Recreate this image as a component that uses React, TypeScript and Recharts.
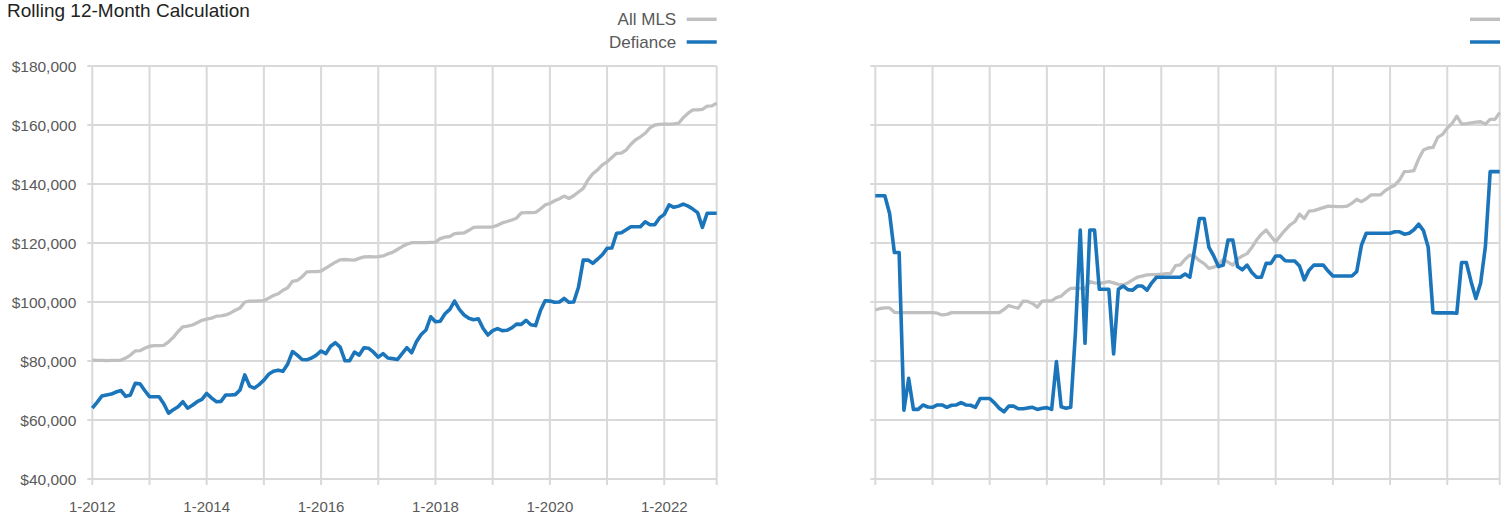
import React from 'react';
import { LineChart, Line, XAxis, YAxis, CartesianGrid } from 'recharts';

const years = [2012, 2013, 2014, 2015, 2016, 2017, 2018, 2019, 2020, 2021, 2022];
const months: string[] = years.flatMap((y) => Array.from({ length: 12 }, (_, m) => `${m + 1}-${y}`));

const xTicks = ['1-2012', '1-2013', '1-2014', '1-2015', '1-2016', '1-2017', '1-2018', '1-2019', '1-2020', '1-2021', '1-2022', '12-2022'];
const xLabels = ['1-2012', '1-2014', '1-2016', '1-2018', '1-2020', '1-2022'];
const yTicks = [40000, 60000, 80000, 100000, 120000, 140000, 160000, 180000];
const seriesNames = ['All MLS', 'Defiance'];

// values in $ thousands
const leftMls = [
  80.3, 80.2, 80.2, 80.1, 80.2, 80.2, 80.3, 81, 82, 83.4, 83.5, 84.3,
  85, 85.2, 85.2, 85.3, 86.5, 88, 90, 91.6, 91.8, 92.2, 93, 93.8,
  94.2, 94.5, 95.2, 95.3, 95.6, 96.3, 97.2, 98, 100, 100.3, 100.3, 100.4,
  100.5, 101.3, 102.2, 102.8, 104, 104.8, 107, 107.3, 108.5, 110.2, 110.3, 110.3,
  110.5, 111.5, 112.5, 113.5, 114.3, 114.4, 114.3, 114.2, 114.8, 115.3, 115.4, 115.3,
  115.4, 115.6, 116.3, 116.8, 117.8, 118.8, 119.6, 120.1, 120.1, 120.1, 120.1, 120.2,
  120.3, 121.5, 122, 122.2, 123.2, 123.3, 123.4, 124.3, 125.3, 125.4, 125.4, 125.4,
  125.5, 126, 126.8, 127.3, 127.8, 128.4, 130.2, 130.3, 130.3, 130.4, 131.5, 132.9,
  133.4, 134.3, 135, 135.9, 135.1, 136, 137.3, 138.5, 141.4, 143.5, 144.8, 146.5,
  147.5, 149, 150.4, 150.5, 151.5, 153.5, 155, 156, 157.2, 159, 160, 160.2,
  160.3, 160.3, 160.4, 160.6, 162.5, 164, 165.1, 165.1, 165.3, 166.4, 166.5, 167.4,
];

const leftDef = [
  64.0, 66, 68.1, 68.5, 68.8, 69.5, 70, 68, 68.5, 72.4, 72.3, 70,
  67.9, 67.9, 67.9, 65.5, 62.3, 63.5, 64.5, 66.2, 64, 65, 66.2, 67,
  69, 67.5, 66.2, 66.3, 68.5, 68.5, 68.6, 70.2, 75.3, 71.5, 70.8, 72,
  73.5, 75.5, 76.5, 76.9, 76.5, 79, 83.2, 82, 80.5, 80.4, 81, 82,
  83.4, 82.5, 85, 86.2, 84.7, 80.1, 80.1, 83, 82, 84.5, 84.3, 83,
  81.3, 82.5, 81, 80.8, 80.5, 82.5, 84.5, 82.8, 86.5, 89, 90.5, 95,
  93.3, 93.5, 96, 97.5, 100.3, 97.5, 95.6, 94.5, 94, 94.3, 91, 88.8,
  90.3, 91, 90.3, 90.4, 91.2, 92.5, 92.4, 93.8, 92.3, 92, 97, 100.4,
  100.3, 99.9, 100, 101.2, 99.9, 100, 105, 114.2, 114.2, 113.1, 114.5, 116,
  118.2, 118.3, 123.3, 123.5, 124.5, 125.5, 125.5, 125.5, 127.2, 126.2, 126.2, 128.5,
  129.7, 132.9, 132.1, 132.5, 133.2, 132.5, 131.5, 130.3, 125.3, 130.1, 130.1, 130.1,
];

const rightMls = [
  97.3, 97.8, 98, 98, 96.5, 96.4, 96.4, 96.4, 96.4, 96.4, 96.4, 96.4,
  96.4, 96.2, 95.6, 95.8, 96.4, 96.4, 96.4, 96.4, 96.4, 96.4, 96.4, 96.4,
  96.4, 96.4, 96.4, 97.5, 98.8, 98.3, 97.9, 100.3, 100.2, 99.5, 98.2, 100.3,
  100.4, 100.4, 101.5, 102, 103.5, 104.6, 104.7, 104.6, 104.4, 106.9, 106.5, 106.3,
  106.6, 106.9, 106.5, 106, 105.8, 106.5, 107.5, 108.4, 108.8, 109.2, 109.3, 109.3,
  109.4, 109.6, 109.7, 112.3, 112.6, 114.5, 115.9, 115.5, 114, 113, 111.4, 111.8,
  112.5, 114.5, 113.5, 112.5, 114.5, 115.6, 116.4, 118.5, 121, 123, 124.4, 122.3,
  120.4, 122.5, 124.4, 126.1, 127.2, 129.8, 128.3, 130.8, 131, 131.5, 132, 132.5,
  132.4, 132.3, 132.3, 132.5, 133.5, 134.8, 134, 135, 136.3, 136.3, 136.3, 137.8,
  138.8, 139.6, 141.4, 144.2, 144.3, 144.5, 148.5, 151.5, 152.2, 152.4, 155.8, 156.8,
  159, 160.5, 163, 160.4, 160.5, 160.7, 161, 161.1, 160.3, 161.9, 161.9, 164.2,
];

const rightDef = [
  136, 136, 136, 130, 116.8, 116.8, 63.3, 74.1, 63.6, 63.6, 65.1, 64.4,
  64.3, 65.1, 65.1, 64.3, 65, 65.1, 65.9, 65.1, 65, 64.3, 67.3, 67.3,
  67.3, 65.8, 64, 62.8, 64.7, 64.7, 63.8, 63.8, 64.1, 64.3, 63.6, 64,
  64.2, 63.6, 79.8, 64.5, 64, 64.3, 90, 124.4, 86, 124.4, 124.4, 104.3,
  104.3, 104.3, 82.4, 104.3, 105.4, 104.2, 104, 105.4, 105.4, 104, 106.5, 108.4,
  108.4, 108.4, 108.4, 108.4, 108.4, 109.5, 108.4, 118, 128.3, 128.3, 118.5, 115.6,
  112, 112.5, 121, 121, 112, 110.9, 112.5, 110, 108.4, 108.4, 113.1, 113.1,
  115.6, 115.6, 114, 113.9, 113.9, 112.2, 107.5, 110.8, 112.5, 112.5, 112.5, 110.5,
  108.8, 108.8, 108.8, 108.8, 108.8, 110.3, 119.3, 123.3, 123.3, 123.3, 123.3, 123.3,
  123.3, 123.8, 123.8, 123, 123.3, 124.5, 126.4, 124.2, 118.6, 96.4, 96.3, 96.3,
  96.3, 96.3, 96.2, 113.4, 113.4, 106.9, 101.2, 106.4, 118.8, 144.2, 144.2, 144.2,
];

const GRID = '#d9d9d9';
const GRAY = '#c0c0c0';
const BLUE = '#1b75bb';
const TEXT = '#595959';
const FONT = "'Liberation Sans', Arial, sans-serif";

function buildRows(mls: number[], def: number[]) {
  return months.map((m, i) => ({ month: m, mls: mls[i] * 1000, def: def[i] * 1000 }));
}

function Panel({ left, mls, def, labels }: { left: number; mls: number[]; def: number[]; labels: boolean }) {
  const data = buildRows(mls, def);
  return (
    <div style={{ position: 'absolute', left, top: 0, width: 730, height: 514 }}>
      <LineChart width={730} height={514} data={data} margin={{ top: 66, right: 13.3, bottom: 0, left: 0 }}>
        <CartesianGrid stroke={GRID} strokeWidth={2} />
        <XAxis
          dataKey="month"
          ticks={xTicks}
          interval={0}
          axisLine={false}
          tickLine={{ stroke: GRID, strokeWidth: 2 }}
          tickSize={6}
          tickMargin={16}
          height={35}
          tick={{ fill: TEXT, fontSize: 15, fontFamily: FONT }}
          tickFormatter={(v: string) => (labels && xLabels.includes(v) ? v : '')}
        />
        <YAxis
          domain={[40000, 180000]}
          ticks={yTicks}
          width={92.3}
          axisLine={false}
          tickLine={{ stroke: GRID, strokeWidth: 2 }}
          tickSize={5}
          tickMargin={11}
          tick={{ fill: TEXT, fontSize: 15.5, fontFamily: FONT }}
          tickFormatter={(v: number) => (labels ? '$' + v.toLocaleString('en-US') : '')}
        />
        <Line type="linear" dataKey="mls" name={seriesNames[0]} stroke={GRAY} strokeWidth={3.3} dot={false} isAnimationActive={false} strokeLinejoin="round" />
        <Line type="linear" dataKey="def" name={seriesNames[1]} stroke={BLUE} strokeWidth={3.6} dot={false} isAnimationActive={false} strokeLinejoin="round" />
      </LineChart>
    </div>
  );
}

function LegendBox({ right, showText }: { right: number; showText: boolean }) {
  const colors = [GRAY, BLUE];
  return (
    <svg style={{ position: 'absolute', left: 0, top: 0 }} width={1510} height={60}>
      {seriesNames.map((n, i) => (
        <g key={n}>
          {showText && (
            <text x={right - 40.5} y={25 + i * 23} textAnchor="end" fill={TEXT} fontSize={17} fontFamily={FONT}>
              {n}
            </text>
          )}
          <line x1={right - 30} x2={right} y1={19.3 + i * 22.7} y2={19.3 + i * 22.7} stroke={colors[i]} strokeWidth={3.5} />
        </g>
      ))}
    </svg>
  );
}

export default function App() {
  return (
    <div style={{ position: 'absolute', left: 0, top: 0, width: 1510, height: 514, background: '#fff' }}>
      <div style={{ position: 'absolute', left: 7, top: 0, fontFamily: FONT, fontSize: 19, color: '#222', lineHeight: '21px' }}>
        Rolling 12-Month Calculation
      </div>
      <Panel left={0} mls={leftMls} def={leftDef} labels={true} />
      <Panel left={783} mls={rightMls} def={rightDef} labels={false} />
      <LegendBox right={716.7} showText={true} />
      <LegendBox right={1500} showText={false} />
    </div>
  );
}
